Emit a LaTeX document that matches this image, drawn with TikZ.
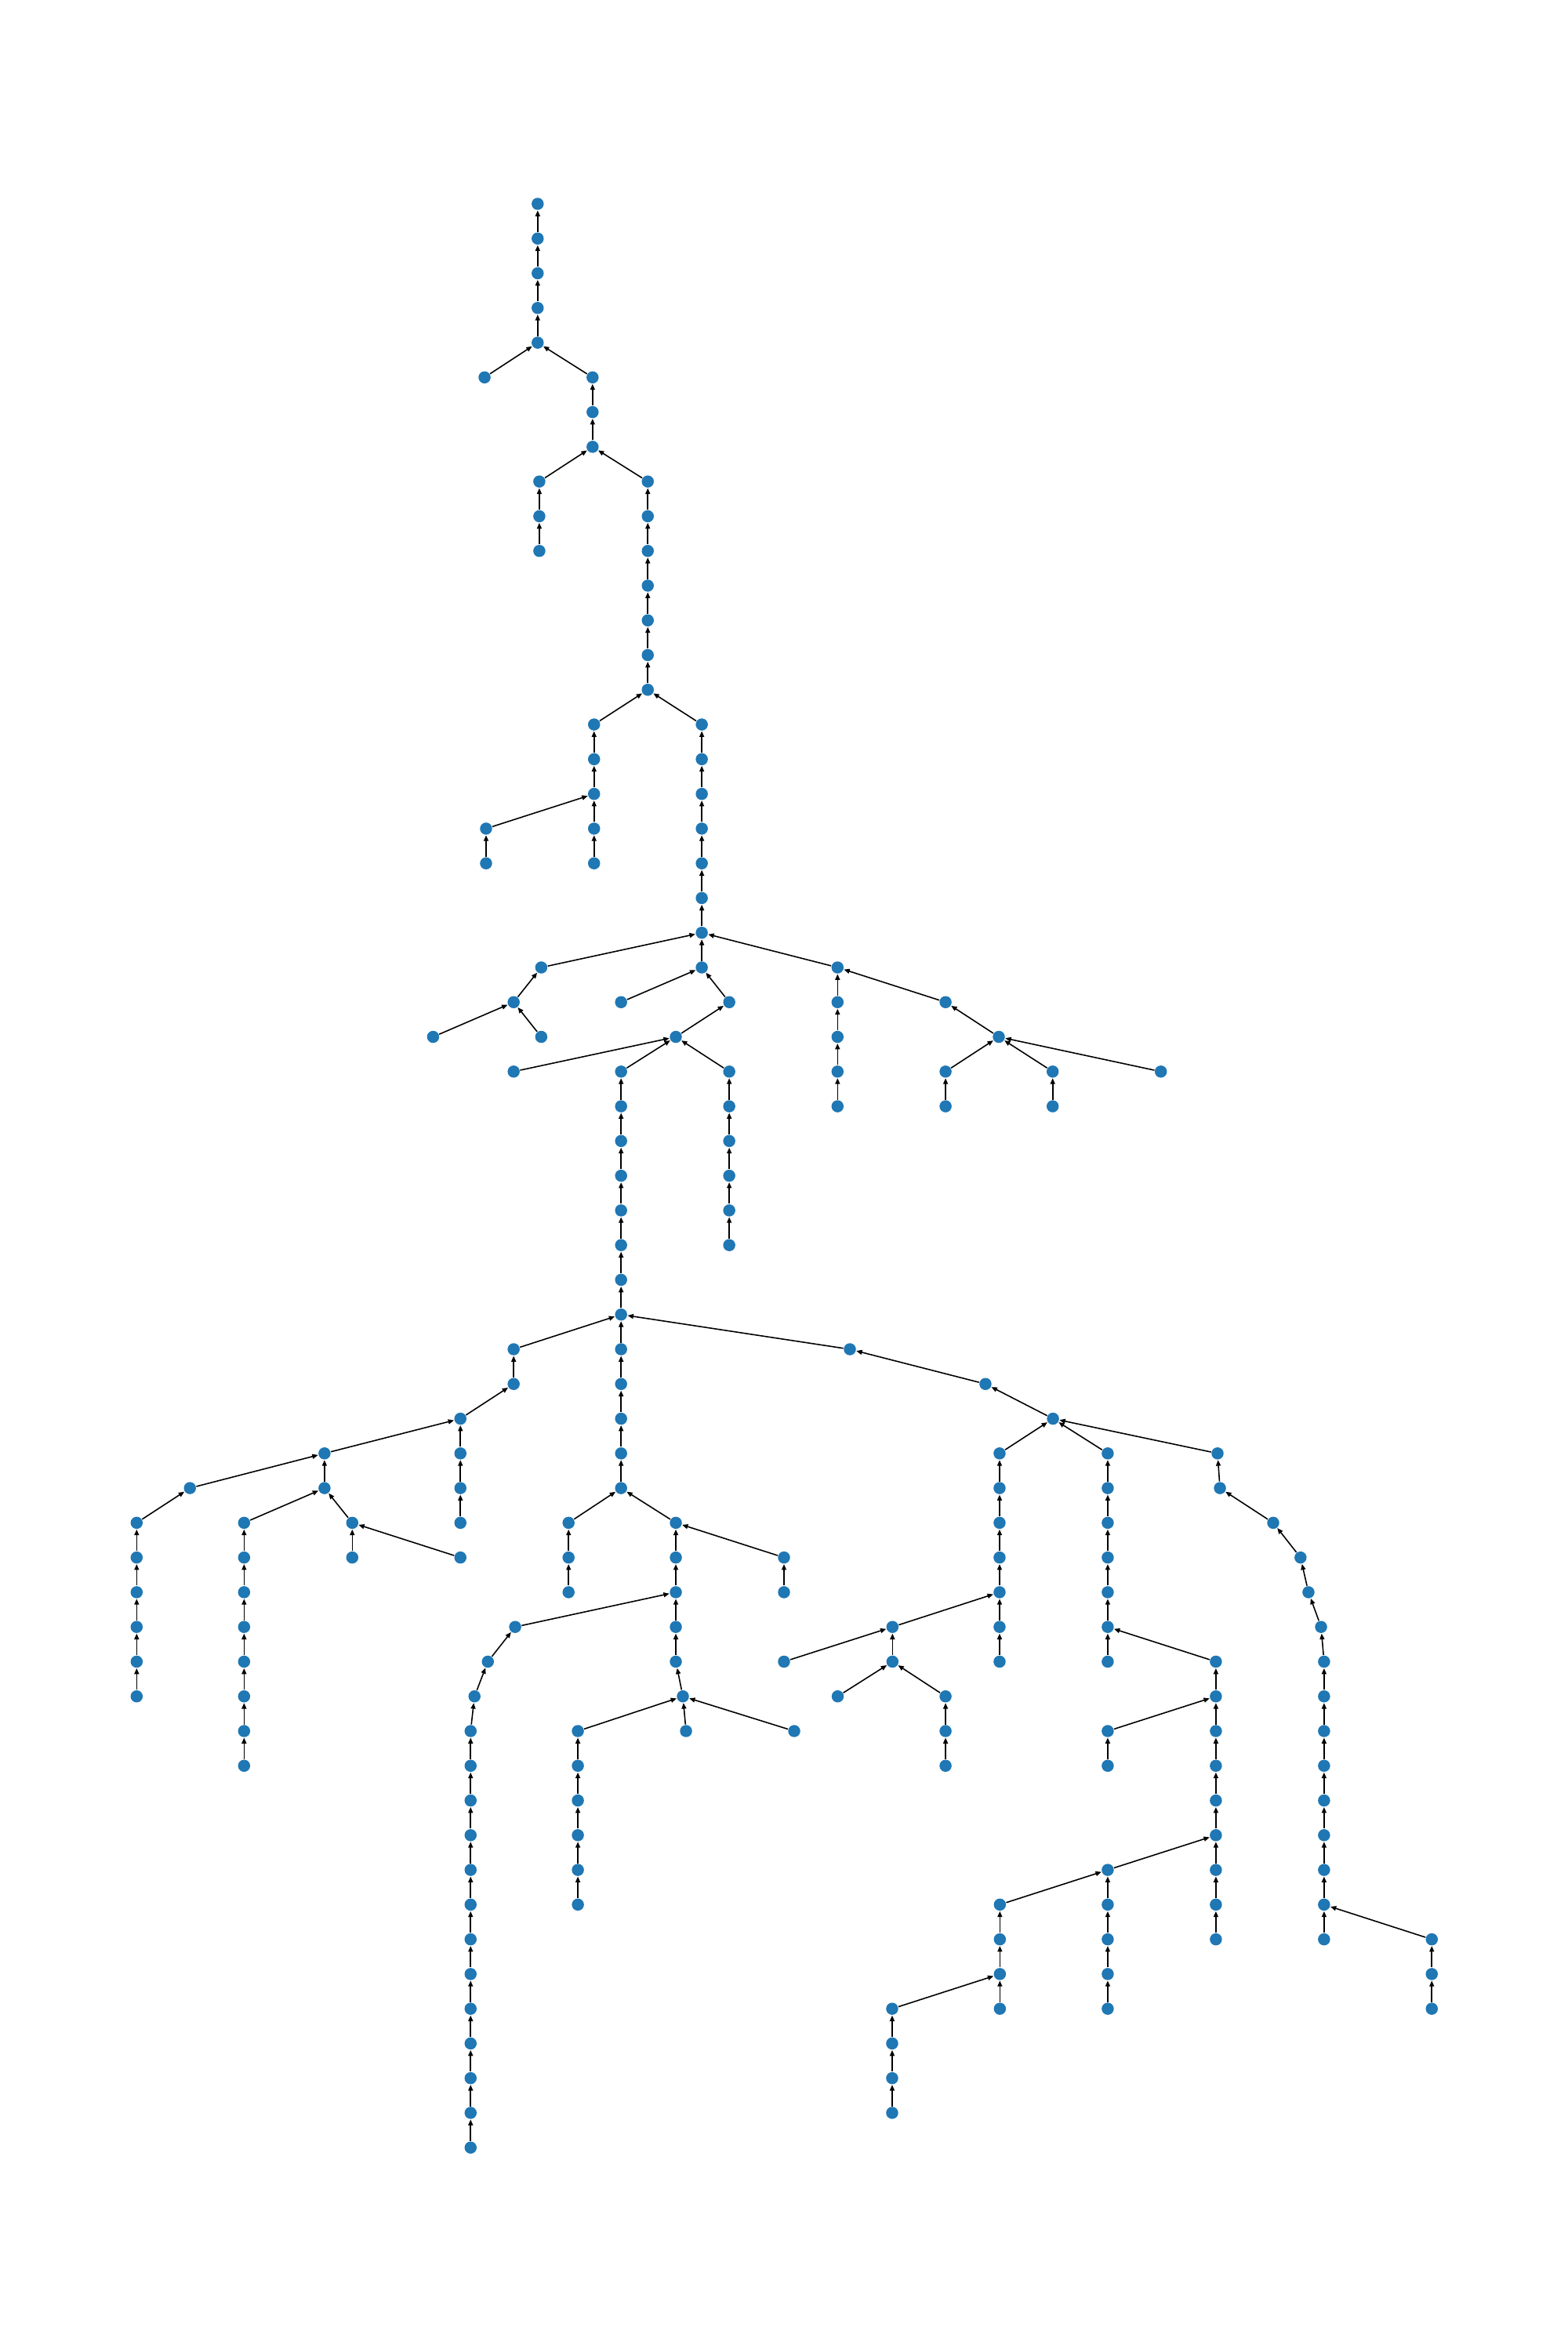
\documentclass[tikz,border=0pt]{standalone}
\usepackage{tikz}
\usetikzlibrary{arrows.meta}

\definecolor{nodeblue}{HTML}{1F77B4}

\begin{document}
\begin{tikzpicture}[
  x=0.019139cm, y=-0.4427cm,
	vertex/.style={
	circle,
	fill=nodeblue,
	inner sep=0pt,
	minimum size=0.155cm},
	link/.style={
	-{Triangle[length=2.1pt, width=1.7pt]},
	line width=0.45pt,
	black}]

	% Page
	\useasboundingbox (0,-5.873) rectangle (1045,61.89);

	% Top stem
	\node [vertex] at (358.4,0) (a0) {};
	\node [vertex] at (358.4,1) (a1) {};
	\node [vertex] at (358.4,2) (a2) {};
	\node [vertex] at (358.4,3) (a3) {};
	\node [vertex] at (358.4,4) (a4) {};
	\node [vertex] at (323,5)   (a5) {};
	\node [vertex] at (395,5)   (b0) {};
	\node [vertex] at (395,6)   (b1) {};
	\node [vertex] at (395,7)   (b2) {};
	\node [vertex] at (359.5,8)  (c0) {};
	\node [vertex] at (359.5,9)  (c1) {};
	\node [vertex] at (359.5,10) (c2) {};
	\node [vertex] at (431.8,8)  (d0) {};
	\node [vertex] at (431.8,9)  (d1) {};
	\node [vertex] at (431.8,10) (d2) {};
	\node [vertex] at (431.8,11) (d3) {};
	\node [vertex] at (431.8,12) (d4) {};
	\node [vertex] at (431.8,13) (d5) {};
	\node [vertex] at (431.8,14) (d6) {};
	\node [vertex] at (396,15) (e0) {};
	\node [vertex] at (396,16) (e1) {};
	\node [vertex] at (396,17) (e2) {};
	\node [vertex] at (396,18) (e3) {};
	\node [vertex] at (396,19) (e4) {};
	\node [vertex] at (324,18) (e5) {};
	\node [vertex] at (324,19) (e6) {};
	\node [vertex] at (467.8,15) (f0) {};
	\node [vertex] at (467.8,16) (f1) {};
	\node [vertex] at (467.8,17) (f2) {};
	\node [vertex] at (467.8,18) (f3) {};
	\node [vertex] at (467.8,19) (f4) {};
	\node [vertex] at (467.8,20) (f5) {};
	\node [vertex] at (467.8,21) (f6) {};

	% Middle crown
	\node [vertex] at (360.8,22) (g0) {};
	\node [vertex] at (342.4,23) (g1) {};
	\node [vertex] at (288.7,24) (g2) {};
	\node [vertex] at (360.8,24) (g3) {};
	\node [vertex] at (467.8,22) (h0) {};
	\node [vertex] at (414,23)   (h1) {};
	\node [vertex] at (486.1,23) (h2) {};
	\node [vertex] at (450.5,24) (h3) {};
	\node [vertex] at (342.4,25) (h4) {};
	\node [vertex] at (414,25) (i0) {};
	\node [vertex] at (414,26) (i1) {};
	\node [vertex] at (414,27) (i2) {};
	\node [vertex] at (414,28) (i3) {};
	\node [vertex] at (414,29) (i4) {};
	\node [vertex] at (414,30) (i5) {};
	\node [vertex] at (414,31) (i6) {};
	\node [vertex] at (414,32) (i7) {};
	\node [vertex] at (486.1,25) (j0) {};
	\node [vertex] at (486.1,26) (j1) {};
	\node [vertex] at (486.1,27) (j2) {};
	\node [vertex] at (486.1,28) (j3) {};
	\node [vertex] at (486.1,29) (j4) {};
	\node [vertex] at (486.1,30) (j5) {};
	\node [vertex] at (558.3,22) (k0) {};
	\node [vertex] at (558.3,23) (k1) {};
	\node [vertex] at (558.3,24) (k2) {};
	\node [vertex] at (558.3,25) (k3) {};
	\node [vertex] at (558.3,26) (k4) {};
	\node [vertex] at (630.3,23) (l0) {};
	\node [vertex] at (665.8,24) (l1) {};
	\node [vertex] at (630.3,25) (l2) {};
	\node [vertex] at (701.7,25) (l3) {};
	\node [vertex] at (773.8,25) (l4) {};
	\node [vertex] at (630.3,26) (l5) {};
	\node [vertex] at (701.7,26) (l6) {};

	% Left lower part
	\node [vertex] at (342.4,33) (m0) {};
	\node [vertex] at (342.4,34) (m1) {};
	\node [vertex] at (306.9,35) (m2) {};
	\node [vertex] at (216.3,36) (m3) {};
	\node [vertex] at (306.9,36) (m4) {};
	\node [vertex] at (306.9,37) (m5) {};
	\node [vertex] at (306.9,38) (m6) {};
	\node [vertex] at (126.6,37) (n0) {};
	\node [vertex] at (91.1,38) (n1) {};
	\node [vertex] at (91.1,39) (n2) {};
	\node [vertex] at (91.1,40) (n3) {};
	\node [vertex] at (91.1,41) (n4) {};
	\node [vertex] at (91.1,42) (n5) {};
	\node [vertex] at (91.1,43) (n6) {};
	\node [vertex] at (216.3,37) (o0) {};
	\node [vertex] at (162.7,38) (p0) {};
	\node [vertex] at (162.7,39) (p1) {};
	\node [vertex] at (162.7,40) (p2) {};
	\node [vertex] at (162.7,41) (p3) {};
	\node [vertex] at (162.7,42) (p4) {};
	\node [vertex] at (162.7,43) (p5) {};
	\node [vertex] at (162.7,44) (p6) {};
	\node [vertex] at (162.7,45) (p7) {};
	\node [vertex] at (234.8,38) (q0) {};
	\node [vertex] at (234.8,39) (q1) {};
	\node [vertex] at (306.9,39) (q2) {};

	% Centre lower part
	\node [vertex] at (414,33) (r0) {};
	\node [vertex] at (414,34) (r1) {};
	\node [vertex] at (414,35) (r2) {};
	\node [vertex] at (414,36) (r3) {};
	\node [vertex] at (414,37) (r4) {};
	\node [vertex] at (379,38) (s0) {};
	\node [vertex] at (379,39) (s1) {};
	\node [vertex] at (379,40) (s2) {};
	\node [vertex] at (450.5,38) (t0) {};
	\node [vertex] at (450.5,39) (t1) {};
	\node [vertex] at (450.5,40) (t2) {};
	\node [vertex] at (450.5,41) (t3) {};
	\node [vertex] at (450.5,42) (t4) {};
	\node [vertex] at (455.2,43) (t5) {};
	\node [vertex] at (522.6,39) (u0) {};
	\node [vertex] at (522.6,40) (u1) {};
	\node [vertex] at (343.4,41) (v0) {};
	\node [vertex] at (325.2,42) (v1) {};
	\node [vertex] at (316.3,43) (v2) {};
	\node [vertex] at (313.7,44) (v3) {};
	\node [vertex] at (313.7,45) (v4) {};
	\node [vertex] at (313.7,46) (v5) {};
	\node [vertex] at (313.7,47) (v6) {};
	\node [vertex] at (313.7,48) (v7) {};
	\node [vertex] at (313.7,49) (v8) {};
	\node [vertex] at (313.7,50) (v9) {};
	\node [vertex] at (313.7,51) (v10) {};
	\node [vertex] at (313.7,52) (v11) {};
	\node [vertex] at (313.7,53) (v12) {};
	\node [vertex] at (313.7,54) (v13) {};
	\node [vertex] at (313.7,55) (v14) {};
	\node [vertex] at (313.7,56) (v15) {};
	\node [vertex] at (385.2,44) (w0) {};
	\node [vertex] at (385.2,45) (w1) {};
	\node [vertex] at (385.2,46) (w2) {};
	\node [vertex] at (385.2,47) (w3) {};
	\node [vertex] at (385.2,48) (w4) {};
	\node [vertex] at (385.2,49) (w5) {};
	\node [vertex] at (457.3,44) (x0) {};
	\node [vertex] at (529.4,44) (y0) {};

	% Right lower part
	\node [vertex] at (566.5,33) (z0) {};
	\node [vertex] at (656.9,34) (z1) {};
	\node [vertex] at (701.9,35) (z2) {};
	\node [vertex] at (666.3,36) (A0) {};
	\node [vertex] at (666.3,37) (A1) {};
	\node [vertex] at (666.3,38) (A2) {};
	\node [vertex] at (666.3,39) (A3) {};
	\node [vertex] at (666.3,40) (A4) {};
	\node [vertex] at (666.3,41) (A5) {};
	\node [vertex] at (666.3,42) (A6) {};
	\node [vertex] at (738.4,36) (B0) {};
	\node [vertex] at (738.4,37) (B1) {};
	\node [vertex] at (738.4,38) (B2) {};
	\node [vertex] at (738.4,39) (B3) {};
	\node [vertex] at (738.4,40) (B4) {};
	\node [vertex] at (738.4,41) (B5) {};
	\node [vertex] at (738.4,42) (B6) {};
	\node [vertex] at (811.6,36) (C0) {};
	\node [vertex] at (813.2,37) (C1) {};
	\node [vertex] at (848.7,38) (C2) {};
	\node [vertex] at (866.9,39) (C3) {};
	\node [vertex] at (872.2,40) (C4) {};
	\node [vertex] at (880.6,41) (C5) {};
	\node [vertex] at (882.6,42) (C6) {};
	\node [vertex] at (882.6,43) (C7) {};
	\node [vertex] at (882.6,44) (C8) {};
	\node [vertex] at (882.6,45) (C9) {};
	\node [vertex] at (882.6,46) (C10) {};
	\node [vertex] at (882.6,47) (C11) {};
	\node [vertex] at (882.6,48) (C12) {};
	\node [vertex] at (882.6,49) (C13) {};
	\node [vertex] at (882.6,50) (C14) {};
	\node [vertex] at (594.9,41) (D0) {};
	\node [vertex] at (594.9,42) (D1) {};
	\node [vertex] at (522.6,42) (E0) {};
	\node [vertex] at (558.4,43) (F0) {};
	\node [vertex] at (630.3,43) (G0) {};
	\node [vertex] at (630.3,44) (G1) {};
	\node [vertex] at (630.3,45) (G2) {};
	\node [vertex] at (810.5,42) (H0) {};
	\node [vertex] at (810.5,43) (H1) {};
	\node [vertex] at (810.5,44) (H2) {};
	\node [vertex] at (810.5,45) (H3) {};
	\node [vertex] at (810.5,46) (H4) {};
	\node [vertex] at (810.5,47) (H5) {};
	\node [vertex] at (810.5,48) (H6) {};
	\node [vertex] at (810.5,49) (H7) {};
	\node [vertex] at (810.5,50) (H8) {};
	\node [vertex] at (738.4,44) (I0) {};
	\node [vertex] at (738.4,45) (I1) {};
	\node [vertex] at (738.4,48) (J0) {};
	\node [vertex] at (738.4,49) (J1) {};
	\node [vertex] at (738.4,50) (J2) {};
	\node [vertex] at (738.4,51) (J3) {};
	\node [vertex] at (738.4,52) (J4) {};
	\node [vertex] at (666.5,49) (K0) {};
	\node [vertex] at (666.5,50) (K1) {};
	\node [vertex] at (666.5,51) (K2) {};
	\node [vertex] at (666.5,52) (K3) {};
	\node [vertex] at (594.7,52) (L0) {};
	\node [vertex] at (594.7,53) (L1) {};
	\node [vertex] at (594.7,54) (L2) {};
	\node [vertex] at (594.7,55) (L3) {};
	\node [vertex] at (954.4,50) (M0) {};
	\node [vertex] at (954.4,51) (M1) {};
	\node [vertex] at (954.4,52) (M2) {};

	% Links, top stem
	\draw[link] (a1) -- (a0);
	\draw[link] (a2) -- (a1);
	\draw[link] (a3) -- (a2);
	\draw[link] (a4) -- (a3);
	\draw[link] (a5) -- (a4);
	\draw[link] (b0) -- (a4);
	\draw[link] (b1) -- (b0);
	\draw[link] (b2) -- (b1);
	\draw[link] (c0) -- (b2);
	\draw[link] (c1) -- (c0);
	\draw[link] (c2) -- (c1);
	\draw[link] (d0) -- (b2);
	\draw[link] (d1) -- (d0);
	\draw[link] (d2) -- (d1);
	\draw[link] (d3) -- (d2);
	\draw[link] (d4) -- (d3);
	\draw[link] (d5) -- (d4);
	\draw[link] (d6) -- (d5);
	\draw[link] (e0) -- (d6);
	\draw[link] (e1) -- (e0);
	\draw[link] (e2) -- (e1);
	\draw[link] (e3) -- (e2);
	\draw[link] (e4) -- (e3);
	\draw[link] (e5) -- (e2);
	\draw[link] (e6) -- (e5);
	\draw[link] (f0) -- (d6);
	\draw[link] (f1) -- (f0);
	\draw[link] (f2) -- (f1);
	\draw[link] (f3) -- (f2);
	\draw[link] (f4) -- (f3);
	\draw[link] (f5) -- (f4);
	\draw[link] (f6) -- (f5);

	% Links, middle crown
	\draw[link] (g0) -- (f6);
	\draw[link] (g1) -- (g0);
	\draw[link] (g2) -- (g1);
	\draw[link] (g3) -- (g1);
	\draw[link] (h0) -- (f6);
	\draw[link] (h1) -- (h0);
	\draw[link] (h2) -- (h0);
	\draw[link] (h3) -- (h2);
	\draw[link] (h4) -- (h3);
	\draw[link] (i0) -- (h3);
	\draw[link] (i1) -- (i0);
	\draw[link] (i2) -- (i1);
	\draw[link] (i3) -- (i2);
	\draw[link] (i4) -- (i3);
	\draw[link] (i5) -- (i4);
	\draw[link] (i6) -- (i5);
	\draw[link] (i7) -- (i6);
	\draw[link] (j0) -- (h3);
	\draw[link] (j1) -- (j0);
	\draw[link] (j2) -- (j1);
	\draw[link] (j3) -- (j2);
	\draw[link] (j4) -- (j3);
	\draw[link] (j5) -- (j4);
	\draw[link] (k0) -- (f6);
	\draw[link] (k1) -- (k0);
	\draw[link] (k2) -- (k1);
	\draw[link] (k3) -- (k2);
	\draw[link] (k4) -- (k3);
	\draw[link] (l0) -- (k0);
	\draw[link] (l1) -- (l0);
	\draw[link] (l2) -- (l1);
	\draw[link] (l3) -- (l1);
	\draw[link] (l4) -- (l1);
	\draw[link] (l5) -- (l2);
	\draw[link] (l6) -- (l3);

	% Links, left lower part
	\draw[link] (m0) -- (i7);
	\draw[link] (m1) -- (m0);
	\draw[link] (m2) -- (m1);
	\draw[link] (m3) -- (m2);
	\draw[link] (m4) -- (m2);
	\draw[link] (m5) -- (m4);
	\draw[link] (m6) -- (m5);
	\draw[link] (n0) -- (m3);
	\draw[link] (n1) -- (n0);
	\draw[link] (n2) -- (n1);
	\draw[link] (n3) -- (n2);
	\draw[link] (n4) -- (n3);
	\draw[link] (n5) -- (n4);
	\draw[link] (n6) -- (n5);
	\draw[link] (o0) -- (m3);
	\draw[link] (p0) -- (o0);
	\draw[link] (p1) -- (p0);
	\draw[link] (p2) -- (p1);
	\draw[link] (p3) -- (p2);
	\draw[link] (p4) -- (p3);
	\draw[link] (p5) -- (p4);
	\draw[link] (p6) -- (p5);
	\draw[link] (p7) -- (p6);
	\draw[link] (q0) -- (o0);
	\draw[link] (q1) -- (q0);
	\draw[link] (q2) -- (q0);

	% Links, centre lower part
	\draw[link] (r0) -- (i7);
	\draw[link] (r1) -- (r0);
	\draw[link] (r2) -- (r1);
	\draw[link] (r3) -- (r2);
	\draw[link] (r4) -- (r3);
	\draw[link] (s0) -- (r4);
	\draw[link] (s1) -- (s0);
	\draw[link] (s2) -- (s1);
	\draw[link] (t0) -- (r4);
	\draw[link] (t1) -- (t0);
	\draw[link] (t2) -- (t1);
	\draw[link] (t3) -- (t2);
	\draw[link] (t4) -- (t3);
	\draw[link] (t5) -- (t4);
	\draw[link] (u0) -- (t0);
	\draw[link] (u1) -- (u0);
	\draw[link] (v0) -- (t2);
	\draw[link] (v1) -- (v0);
	\draw[link] (v2) -- (v1);
	\draw[link] (v3) -- (v2);
	\draw[link] (v4) -- (v3);
	\draw[link] (v5) -- (v4);
	\draw[link] (v6) -- (v5);
	\draw[link] (v7) -- (v6);
	\draw[link] (v8) -- (v7);
	\draw[link] (v9) -- (v8);
	\draw[link] (v10) -- (v9);
	\draw[link] (v11) -- (v10);
	\draw[link] (v12) -- (v11);
	\draw[link] (v13) -- (v12);
	\draw[link] (v14) -- (v13);
	\draw[link] (v15) -- (v14);
	\draw[link] (w0) -- (t5);
	\draw[link] (w1) -- (w0);
	\draw[link] (w2) -- (w1);
	\draw[link] (w3) -- (w2);
	\draw[link] (w4) -- (w3);
	\draw[link] (w5) -- (w4);
	\draw[link] (x0) -- (t5);
	\draw[link] (y0) -- (t5);

	% Links, right lower part
	\draw[link] (z0) -- (i7);
	\draw[link] (z1) -- (z0);
	\draw[link] (z2) -- (z1);
	\draw[link] (A0) -- (z2);
	\draw[link] (A1) -- (A0);
	\draw[link] (A2) -- (A1);
	\draw[link] (A3) -- (A2);
	\draw[link] (A4) -- (A3);
	\draw[link] (A5) -- (A4);
	\draw[link] (A6) -- (A5);
	\draw[link] (B0) -- (z2);
	\draw[link] (B1) -- (B0);
	\draw[link] (B2) -- (B1);
	\draw[link] (B3) -- (B2);
	\draw[link] (B4) -- (B3);
	\draw[link] (B5) -- (B4);
	\draw[link] (B6) -- (B5);
	\draw[link] (C0) -- (z2);
	\draw[link] (C1) -- (C0);
	\draw[link] (C2) -- (C1);
	\draw[link] (C3) -- (C2);
	\draw[link] (C4) -- (C3);
	\draw[link] (C5) -- (C4);
	\draw[link] (C6) -- (C5);
	\draw[link] (C7) -- (C6);
	\draw[link] (C8) -- (C7);
	\draw[link] (C9) -- (C8);
	\draw[link] (C10) -- (C9);
	\draw[link] (C11) -- (C10);
	\draw[link] (C12) -- (C11);
	\draw[link] (C13) -- (C12);
	\draw[link] (C14) -- (C13);
	\draw[link] (D0) -- (A4);
	\draw[link] (D1) -- (D0);
	\draw[link] (E0) -- (D0);
	\draw[link] (F0) -- (D1);
	\draw[link] (G0) -- (D1);
	\draw[link] (G1) -- (G0);
	\draw[link] (G2) -- (G1);
	\draw[link] (H0) -- (B5);
	\draw[link] (H1) -- (H0);
	\draw[link] (H2) -- (H1);
	\draw[link] (H3) -- (H2);
	\draw[link] (H4) -- (H3);
	\draw[link] (H5) -- (H4);
	\draw[link] (H6) -- (H5);
	\draw[link] (H7) -- (H6);
	\draw[link] (H8) -- (H7);
	\draw[link] (I0) -- (H1);
	\draw[link] (I1) -- (I0);
	\draw[link] (J0) -- (H5);
	\draw[link] (J1) -- (J0);
	\draw[link] (J2) -- (J1);
	\draw[link] (J3) -- (J2);
	\draw[link] (J4) -- (J3);
	\draw[link] (K0) -- (J0);
	\draw[link] (K1) -- (K0);
	\draw[link] (K2) -- (K1);
	\draw[link] (K3) -- (K2);
	\draw[link] (L0) -- (K2);
	\draw[link] (L1) -- (L0);
	\draw[link] (L2) -- (L1);
	\draw[link] (L3) -- (L2);
	\draw[link] (M0) -- (C13);
	\draw[link] (M1) -- (M0);
	\draw[link] (M2) -- (M1);

\end{tikzpicture}
\end{document}
